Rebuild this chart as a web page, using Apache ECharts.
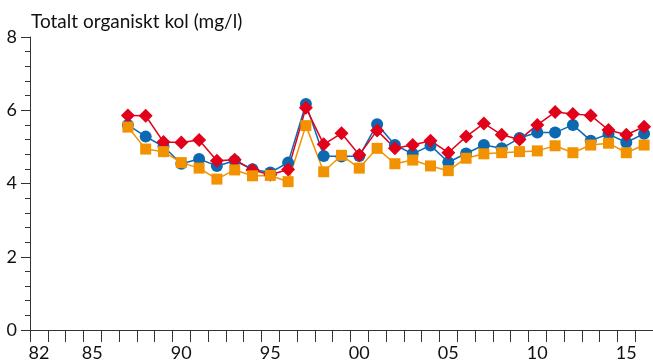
<!DOCTYPE html>
<html>
<head>
<meta charset="utf-8">
<script src="https://cdn.jsdelivr.net/npm/echarts@6/dist/echarts.min.js"></script>
<style>
  html, body { margin: 0; padding: 0; background: #fff; }
  #chart { width: 653px; height: 362px; }
</style>
</head>
<body>
<div id="chart"></div>
<script>
// Years on the category axis (1982–2016)
const years = ['1982','1983','1984','1985','1986','1987','1988','1989','1990','1991',
  '1992','1993','1994','1995','1996','1997','1998','1999','2000','2001',
  '2002','2003','2004','2005','2006','2007','2008','2009','2010','2011',
  '2012','2013','2014','2015','2016'];

// Years that get a printed label, and the text shown for them
const labelYears = ['1982','1985','1990','1995','2000','2005','2010','2015'];
const labelTexts = ['82','85','90','95','00','05','10','15'];

// Total organic carbon (mg/l), 1982–2016; null where no sample exists
const blueSeries = [null,null,null,null,null,
  5.60,5.28,5.01,4.54,4.67,4.48,4.62,4.39,4.30,4.57,
  6.17,4.75,4.74,4.75,5.62,5.05,4.81,5.04,4.58,4.82,
  5.05,4.96,5.24,5.39,5.39,5.60,5.17,5.35,5.12,5.36];
const redSeries = [null,null,null,null,null,
  5.86,5.85,5.13,5.12,5.19,4.62,4.65,4.37,4.24,4.38,
  6.07,5.07,5.37,4.78,5.45,4.96,5.05,5.17,4.84,5.28,
  5.64,5.33,5.20,5.60,5.95,5.90,5.86,5.46,5.33,5.55];
const orangeSeries = [null,null,null,null,null,
  5.54,4.94,4.87,4.57,4.42,4.12,4.37,4.21,4.22,4.05,
  5.58,4.32,4.77,4.42,4.96,4.54,4.64,4.48,4.35,4.69,
  4.81,4.84,4.87,4.89,5.03,4.84,5.05,5.10,4.84,5.05];

const FONT = 'Lato';
const chart = echarts.init(document.getElementById('chart'), null, { renderer: 'canvas' });

function lineSeries(name, data, color, symbol, size) {
  return {
    name: name,
    type: 'line',
    data: data,
    symbol: symbol,
    symbolSize: size,
    showSymbol: true,
    connectNulls: false,
    lineStyle: { color: color, width: 1.5 },
    itemStyle: { color: color, borderWidth: 0 },
    emphasis: { disabled: true },
    animation: false
  };
}

chart.setOption({
  animation: false,
  title: {
    text: 'Totalt organiskt kol (mg/l)',
    left: 26,
    top: 7,
    textStyle: { fontFamily: FONT, fontSize: 19, fontWeight: 'normal', color: '#111' }
  },
  grid: { left: 30, right: 0, top: 37, bottom: 32, containLabel: false },
  xAxis: {
    type: 'category',
    data: years,
    boundaryGap: true,
    axisLine: { lineStyle: { color: '#333', width: 1 } },
    axisTick: { show: true, interval: 0, length: 12, lineStyle: { color: '#333', width: 1 } },
    axisLabel: {
      interval: 0,
      margin: 14,
      fontFamily: FONT,
      fontSize: 18,
      color: '#111',
      formatter: function (v) {
        const i = labelYears.indexOf(v);
        return i >= 0 ? labelTexts[i] : '';
      }
    },
    splitLine: { show: false }
  },
  yAxis: {
    type: 'value',
    min: 0,
    max: 8,
    interval: 2,
    axisLine: { show: true, lineStyle: { color: '#333', width: 1 } },
    axisTick: { show: true, length: 9, lineStyle: { color: '#333', width: 1 } },
    minorTick: { show: true, splitNumber: 5, length: 5, lineStyle: { color: '#333', width: 1 } },
    axisLabel: { margin: 13, fontFamily: FONT, fontSize: 18, color: '#111' },
    splitLine: { show: false }
  },
  series: [
    lineSeries('blue', blueSeries, '#0b68b1', 'circle', 12),
    lineSeries('red', redSeries, '#e2001a', 'diamond', 14),
    lineSeries('orange', orangeSeries, '#f39200', 'rect', 11)
  ]
});
</script>
</body>
</html>
